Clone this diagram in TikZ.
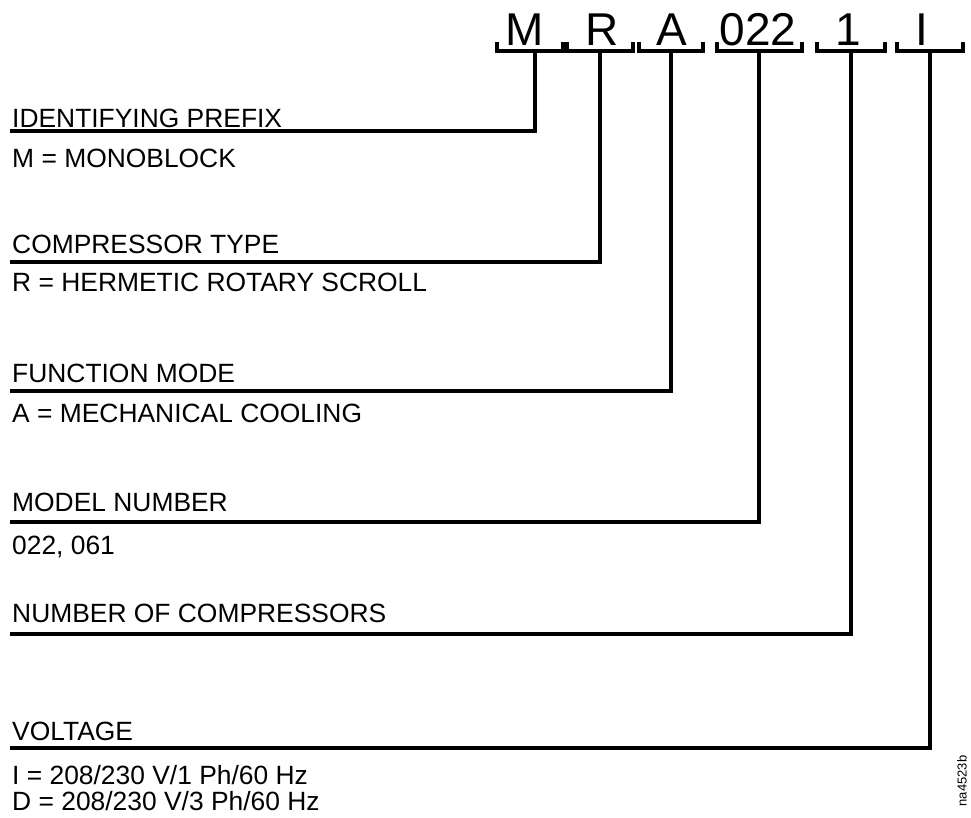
\documentclass[tikz,border=0pt]{standalone}
\usepackage{fontspec}
\setmainfont{Liberation Sans}
\usetikzlibrary{positioning,calc}

\begin{document}
\begin{tikzpicture}[x=1pt, y=-1pt,
  lead/.style={line width=4pt},
  brk/.style={line width=4.5pt},
  code/.style={font=\fontsize{46}{46}\selectfont, anchor=base, inner sep=0pt},
  title/.style={font=\fontsize{26.4}{26.4}\selectfont, anchor=base west, inner sep=0pt},
  entry/.style={font=\fontsize{26.4}{26.4}\selectfont, anchor=base west, inner sep=0pt}]
  \useasboundingbox (0,0) rectangle (971,817);

  % Model code letters, brackets and leader lines
  \foreach \n/\t/\tx/\sx/\y in {M/M/525/535/131, R/R/602/600/262, A/A/672/671/391,
      Num/022/758/759/522, Comp/1/848/851/634, Volt/I/922/930/748} {
    \node[code] (code\n) at (\tx,45) {\t};
    \coordinate (top\n) at (\sx,51);
    \coordinate (end\n) at (10,\y);
    \draw[lead] (top\n) |- (end\n);
  }
  \foreach \l/\r in {497/563, 567/633, 639/703, 717/802, 817/885, 897/963}
    \draw[brk] (\l,42) |- (\r,51) -- (\r,42);

  % Field titles and values
  \node[title] (labM) at (12,127) {IDENTIFYING PREFIX};
  \node[entry] (valM) at (12,167) {M = MONOBLOCK};
  \node[title] (labR) at (12,253) {COMPRESSOR TYPE};
  \node[entry] (valR) at (12,291) {R = HERMETIC ROTARY SCROLL};
  \node[title] (labA) at (12,382) {FUNCTION MODE};
  \node[entry] (valA) at (12,422) {A = MECHANICAL COOLING};
  \node[title] (labNum) at (12,511) {MODEL NUMBER};
  \node[entry] (valNum) at (12,554) {022, 061};
  \node[title] (labComp) at (12,622) {NUMBER OF COMPRESSORS};
  \node[title] (labVolt) at (12,740) {VOLTAGE};
  \node[entry] (valVoltA) at (12,784) {I = 208/230 V/1 Ph/60 Hz};
  \node[entry] (valVoltB) at (12,810) {D = 208/230 V/3 Ph/60 Hz};

  % Figure id
  \node[font=\fontsize{13}{13}\selectfont, rotate=90, inner sep=0pt] (figId) at (962,781) {na4523b};
\end{tikzpicture}
\end{document}
